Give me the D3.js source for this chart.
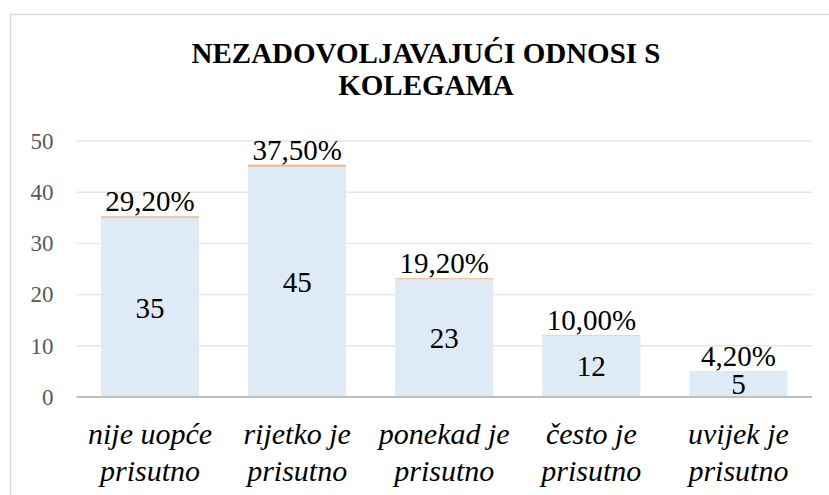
<!DOCTYPE html>
<html>
<head>
<meta charset="utf-8">
<script src="https://cdn.jsdelivr.net/npm/d3@7"></script>
</head>
<body style="margin:0">
<script>
// chart data
const categories = [
  ["nije uopće", "prisutno"],
  ["rijetko je", "prisutno"],
  ["ponekad je", "prisutno"],
  ["često je", "prisutno"],
  ["uvijek je", "prisutno"]
];
const counts = [35, 45, 23, 12, 5];
const percents = [29.2, 37.5, 19.2, 10.0, 4.2];
const yTicks = [0, 10, 20, 30, 40, 50];
const titleLines = ["NEZADOVOLJAVAJUĆI ODNOSI S", "KOLEGAMA"];

const W = 829, H = 495;
const FONT = '"Liberation Serif", "Tinos", serif';

// set serif font with priority so nothing else overrides it
const serifText = sel => sel.style('font-family', FONT, 'important');

const svg = d3.select('body').append('svg')
  .attr('width', W)
  .attr('height', H)
  .style('display', 'block');

// chart border (runs off the right/bottom edge like the source)
svg.append('rect')
  .attr('x', 10.5).attr('y', 14.5)
  .attr('width', W + 20).attr('height', H + 20)
  .attr('fill', '#fff')
  .attr('stroke', '#d9d9d9')
  .attr('stroke-width', 1.5);

// title
svg.append('text')
  .attr('x', 426)
  .attr('text-anchor', 'middle')
  .call(serifText)
  .style('font-weight', 'bold')
  .style('font-size', '29px')
  .style('fill', '#000')
  .selectAll('tspan')
  .data(titleLines)
  .join('tspan')
  .call(serifText)
  .attr('x', 426)
  .attr('y', (d, i) => 63 + i * 32)
  .text(d => d);

const x = d3.scaleBand()
  .domain(d3.range(categories.length))
  .range([76.5, 812])
  .paddingInner(1 / 3)
  .paddingOuter(1 / 6);

const y = d3.scaleLinear()
  .domain([0, 50])
  .range([397, 141]);

// gridlines
svg.append('g')
  .selectAll('line')
  .data(yTicks.filter(t => t > 0))
  .join('line')
  .attr('x1', 76.5).attr('x2', 812)
  .attr('y1', d => y(d)).attr('y2', d => y(d))
  .attr('stroke', '#e6e6e6')
  .attr('stroke-width', 1.5);

// y axis labels
const yAxis = svg.append('g')
  .attr('transform', 'translate(76.5,0)')
  .call(d3.axisLeft(y).tickValues(yTicks).tickSize(0).tickPadding(23));
yAxis.select('.domain').remove();
yAxis.attr('font-family', FONT).attr('font-size', 23);
yAxis.selectAll('text')
  .call(serifText)
  .style('font-size', '23px')
  .style('fill', '#595959');

// stacked bars: count + percentage share (thin orange cap)
const rows = counts.map((c, i) => ({ i, count: c, pct: percents[i] / 100 }));
const stacked = d3.stack().keys(['count', 'pct'])(rows);
const colors = { count: '#deebf7', pct: '#f4b183' };

svg.append('g')
  .selectAll('g')
  .data(stacked)
  .join('g')
  .attr('fill', s => colors[s.key])
  .selectAll('rect')
  .data(s => s)
  .join('rect')
  .attr('x', d => x(d.data.i))
  .attr('width', x.bandwidth())
  .attr('y', d => y(d[1]))
  .attr('height', d => y(d[0]) - y(d[1]));

// baseline
svg.append('line')
  .attr('x1', 76.5).attr('x2', 812)
  .attr('y1', y(0)).attr('y2', y(0))
  .attr('stroke', '#bfbfbf')
  .attr('stroke-width', 2);

// count labels, centred in bar
svg.append('g')
  .selectAll('text')
  .data(rows)
  .join('text')
  .attr('x', d => x(d.i) + x.bandwidth() / 2)
  .attr('y', d => (y(0) + y(d.count)) / 2)
  .attr('dy', '0.35em')
  .attr('text-anchor', 'middle')
  .call(serifText)
  .style('font-size', '29px')
  .style('fill', '#000')
  .text(d => d.count);

// percentage labels above bar
const fmtPct = v => (v * 100).toFixed(2).replace('.', ',') + '%';
svg.append('g')
  .selectAll('text')
  .data(rows)
  .join('text')
  .attr('x', d => x(d.i) + x.bandwidth() / 2)
  .attr('y', d => y(d.count + d.pct) - 5)
  .attr('text-anchor', 'middle')
  .call(serifText)
  .style('font-size', '29px')
  .style('fill', '#000')
  .text(d => fmtPct(d.pct));

// category labels
svg.append('g')
  .selectAll('text')
  .data(categories)
  .join('text')
  .attr('text-anchor', 'middle')
  .call(serifText)
  .style('font-style', 'italic')
  .style('font-size', '30px')
  .style('fill', '#000')
  .each(function (lines, i) {
    d3.select(this).selectAll('tspan')
      .data(lines)
      .join('tspan')
      .call(serifText)
      .attr('x', x(i) + x.bandwidth() / 2)
      .attr('y', (d, j) => 444 + j * 37)
      .text(d => d);
  });
</script>
</body>
</html>
